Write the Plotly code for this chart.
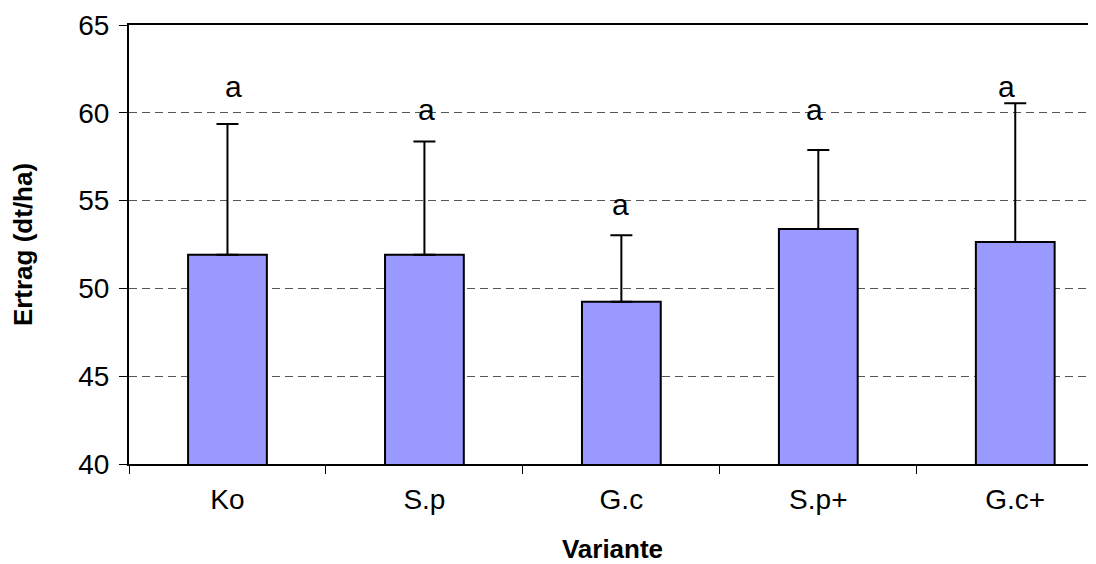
import plotly.graph_objects as go

categories = ["Ko", "S.p", "G.c", "S.p+", "G.c+"]
ertrag = [51.92, 51.92, 49.24, 53.38, 52.64]
fehler = [7.44, 6.45, 3.78, 4.50, 7.90]
buchstaben = ["a", "a", "a", "a", "a"]
buchstaben_y = [61.5, 60.2, 54.8, 60.2, 61.5]
y_ticks = [40, 45, 50, 55, 60, 65]

FONT = "Liberation Sans, Arial, sans-serif"
label_xshift = [6, 2, -1, -4, -9]

fig = go.Figure()
fig.add_trace(go.Bar(
    x=categories, y=ertrag,
    marker=dict(color="#9999FF", line=dict(color="black", width=2)),
    error_y=dict(type="data", array=fehler, arrayminus=[0] * len(fehler),
                 symmetric=False, color="black", thickness=2, width=11),
    width=0.4,
    showlegend=False,
))

for c, t, yy, xs in zip(categories, buchstaben, buchstaben_y, label_xshift):
    fig.add_annotation(x=c, y=yy, text=t, showarrow=False, xshift=xs,
                       font=dict(family=FONT, size=30, color="black"),
                       yanchor="middle", xanchor="center")

fig.update_layout(
    width=1088, height=556,
    margin=dict(l=121, r=0, t=17, b=100),
    paper_bgcolor="white", plot_bgcolor="white",
    font=dict(family=FONT, size=28, color="black"),
    xaxis=dict(
        type="category", range=[-0.5, 4.41],
        showline=True, linecolor="black", linewidth=2, mirror=True,
        ticks="outside", ticklen=8, tickwidth=1, tickcolor="black",
        tickson="boundaries", showgrid=False,
        ticklabelstandoff=9,
        title=dict(text="<b>Variante</b>", font=dict(family=FONT, size=26), standoff=29),
    ),
    yaxis=dict(
        range=[40, 65], tickvals=y_ticks,
        showline=True, linecolor="black", linewidth=2, mirror=False,
        ticks="outside", ticklen=8, tickwidth=1, tickcolor="black",
        showgrid=True, gridcolor="#555555", gridwidth=1, griddash="8px,5px",
        zeroline=False, ticklabelstandoff=4,
        title=dict(text="<b>Ertrag (dt/ha)</b>", font=dict(family=FONT, size=26), standoff=38),
    ),
    yaxis2=dict(
        range=[40, 65], tickvals=y_ticks, overlaying="y", side="left",
        ticks="inside", ticklen=8, tickwidth=1, tickcolor="black",
        showticklabels=False, showgrid=False, showline=False, zeroline=False,
    ),
)

fig.write_html("out.html")
